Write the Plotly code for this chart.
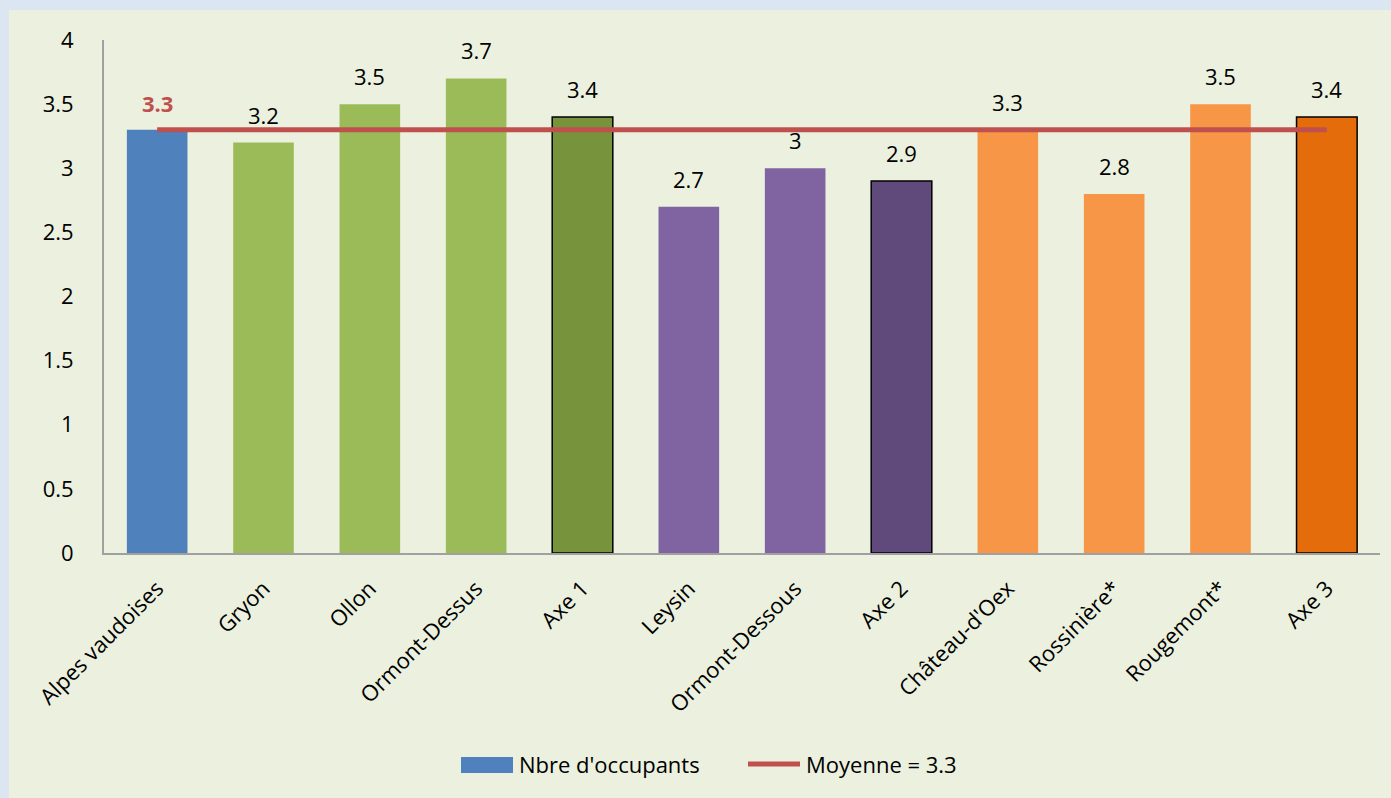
import plotly.graph_objects as go

categories = ["Alpes vaudoises", "Gryon", "Ollon", "Ormont-Dessus", "Axe 1", "Leysin",
              "Ormont-Dessous", "Axe 2", "Château-d'Oex", "Rossinière*", "Rougemont*", "Axe 3"]
occupants = [3.3, 3.2, 3.5, 3.7, 3.4, 2.7, 3.0, 2.9, 3.3, 2.8, 3.5, 3.4]
bar_labels = ["", "3.2", "3.5", "3.7", "3.4", "2.7", "3", "2.9", "3.3", "2.8", "3.5", "3.4"]
moyenne = [3.3, 3.3, 3.3, 3.3, 3.3, 3.3, 3.3, 3.3, 3.3, 3.3, 3.3, 3.3]
moyenne_label = "3.3"
legend_names = ["Nbre d'occupants", "Moyenne = 3.3"]

bar_colors = ["#4F81BD", "#9BBB59", "#9BBB59", "#9BBB59", "#77933C", "#8064A2",
              "#8064A2", "#604A7B", "#F79646", "#F79646", "#F79646", "#E46C0A"]
line_widths = [0, 0, 0, 0, 1.5, 0, 0, 1.5, 0, 0, 0, 1.5]

FONT = "Open Sans"
FS = 22
W, H = 1382, 788
L, R, T, B = 95, 11, 30, 245
PW, PH = W - L - R, H - T - B
OX, OY = 9, 10  # page offset of the figure


def px(x):
    return (x - OX - L) / PW


def py(y):
    return (H - B - (y - OY)) / PH


fig = go.Figure()
fig.add_trace(go.Bar(
    x=categories, y=occupants, name=legend_names[0],
    marker=dict(color=bar_colors, line=dict(color="black", width=line_widths)),
    width=0.57, hoverinfo="x+y",
))
fig.add_trace(go.Scatter(
    x=categories, y=moyenne, mode="lines", name=legend_names[1],
    line=dict(color="#C0504D", width=5),
))

for c, v, t in zip(categories, occupants, bar_labels):
    if t:
        fig.add_annotation(x=c, y=v, text=t, showarrow=False, yanchor="middle", yshift=28,
                           font=dict(family=FONT, size=FS, color="black"))
fig.add_annotation(x=categories[0], y=moyenne[0], text="<b>" + moyenne_label + "</b>",
                   showarrow=False, yanchor="middle", yshift=27,
                   font=dict(family=FONT, size=FS, color="#C0504D"))

# manual legend
fig.add_shape(type="rect", xref="paper", yref="paper",
              x0=px(461), x1=px(513), y0=py(773), y1=py(757),
              fillcolor="#4F81BD", line=dict(width=0))
fig.add_annotation(xref="paper", yref="paper", x=px(517), y=py(764), xanchor="left",
                   yanchor="middle", text=legend_names[0], showarrow=False,
                   font=dict(family=FONT, size=FS, color="black"))
fig.add_shape(type="line", xref="paper", yref="paper",
              x0=px(748), x1=px(800), y0=py(764), y1=py(764),
              line=dict(color="#C0504D", width=5))
fig.add_annotation(xref="paper", yref="paper", x=px(804), y=py(764), xanchor="left",
                   yanchor="middle", text=legend_names[1], showarrow=False,
                   font=dict(family=FONT, size=FS, color="black"))

fig.update_layout(
    width=W, height=H,
    margin=dict(l=L, r=R, t=T, b=B),
    paper_bgcolor="#EBF1DE", plot_bgcolor="rgba(0,0,0,0)",
    font=dict(family=FONT, size=FS, color="black"),
    showlegend=False,
    bargap=0.43,
)
fig.update_xaxes(showline=True, linecolor="#A0A0A0", linewidth=2, tickangle=-45,
                 ticks="", showgrid=False, ticklabelstandoff=12,
                 tickfont=dict(family=FONT, size=FS))
fig.update_yaxes(range=[0, 4], dtick=0.5, showline=True, linecolor="#A0A0A0", linewidth=2,
                 ticks="", showgrid=False, zeroline=False, ticklabelstandoff=24,
                 tickfont=dict(family=FONT, size=FS))

fig.write_html("out.html", post_script=(
    "document.body.style.margin='%dpx 0 0 %dpx';"
    "document.body.style.background='#DCE6F2';"
    "document.body.style.overflow='hidden';" % (OY, OX)))
